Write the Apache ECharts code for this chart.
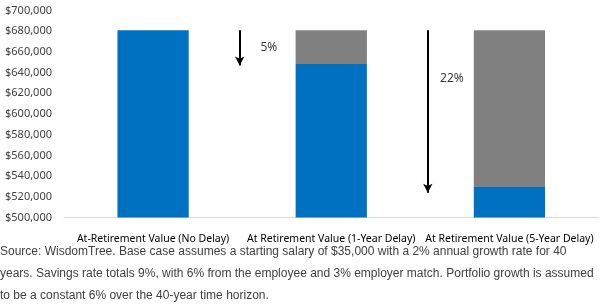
<!DOCTYPE html>
<html>
<head>
<meta charset="utf-8">
<script src="https://cdn.jsdelivr.net/npm/echarts@6/dist/echarts.min.js"></script>
<style>
  html, body { margin: 0; padding: 0; background: #fff; }
  #chart { width: 601px; height: 304px; }
</style>
</head>
<body>
<div id="chart"></div>
<script>
// data
var categories = [
  "At-Retirement Value (No Delay)",
  "At Retirement Value (1-Year Delay)",
  "At Retirement Value (5-Year Delay)"
];
var blueValues = [681000, 648300, 529500];
var baseValue = blueValues[0];
var grayValues = blueValues.map(function (v) { return baseValue - v; });

// arrows: x position (in category units), tip value and label position
var arrowX = [0.486, 1.542];
var arrowTip = [646800, 523800];
var pctLabels = blueValues.slice(1).map(function (v) {
  return Math.round((1 - v / baseValue) * 100) + "%";
});
var pctLabelPos = [[0.65, 664000], [1.677, 634000]];

var yTicks = { min: 500000, max: 700000, interval: 20000 };

var sourceLines = [
  "Source: WisdomTree. Base case assumes a starting salary of $35,000 with a 2% annual growth rate for 40",
  "years. Savings rate totals 9%, with 6% from the employee and 3% employer match. Portfolio growth is assumed",
  "to be a constant 6% over the 40-year time horizon."
];

var chart = echarts.init(document.getElementById("chart"));

var arrowLines = arrowX.map(function (x, i) {
  return [{ coord: [x, baseValue] }, { coord: [x, arrowTip[i]] }];
});

var option = {
  animation: false,
  grid: { left: 64, right: 2.5, top: 10.5, bottom: 86.5, containLabel: false },
  xAxis: [
    {
      type: "category",
      data: categories,
      axisLine: { lineStyle: { color: "#d9d9d9", width: 1 } },
      axisTick: { show: false },
      axisLabel: {
        interval: 0,
        color: "#000",
        fontFamily: "Noto Sans",
        fontSize: 10.5,
        margin: 16
      }
    },
    { type: "value", min: -0.5, max: 2.5, show: false }
  ],
  yAxis: {
    type: "value",
    min: yTicks.min,
    max: yTicks.max,
    interval: yTicks.interval,
    splitLine: { show: false },
    axisLine: { show: false },
    axisTick: { show: false },
    axisLabel: {
      color: "#404040",
      fontFamily: "Noto Sans",
      fontSize: 11,
      margin: 12,
      formatter: function (v) { return "$" + v.toLocaleString("en-US"); }
    }
  },
  series: [
    {
      name: "value",
      type: "bar",
      stack: "total",
      barWidth: "40%",
      itemStyle: { color: "#0070C0" },
      data: blueValues
    },
    {
      name: "loss",
      type: "bar",
      stack: "total",
      barWidth: "40%",
      itemStyle: { color: "#808080" },
      data: grayValues
    },
    {
      name: "annotations",
      type: "scatter",
      xAxisIndex: 1,
      symbolSize: 0,
      silent: true,
      data: pctLabelPos.map(function (p, i) { return [p[0], p[1], pctLabels[i]]; }),
      label: {
        show: true,
        position: "inside",
        color: "#000",
        fontFamily: "Noto Sans",
        fontSize: 12,
        formatter: function (p) { return p.value[2]; }
      },
      markLine: {
        silent: true,
        symbol: ["none", "arrow"],
        symbolSize: [7, 9],
        label: { show: false },
        lineStyle: { color: "#000", width: 2, type: "solid" },
        data: arrowLines
      }
    }
  ],
  graphic: sourceLines.map(function (line, i) {
    return {
      type: "text",
      x: 0,
      y: 246 + i * 22,
      style: {
        text: line,
        fill: "#404040",
        font: "12px 'Liberation Sans', Arial, sans-serif"
      }
    };
  })
};

chart.setOption(option);
</script>
</body>
</html>
